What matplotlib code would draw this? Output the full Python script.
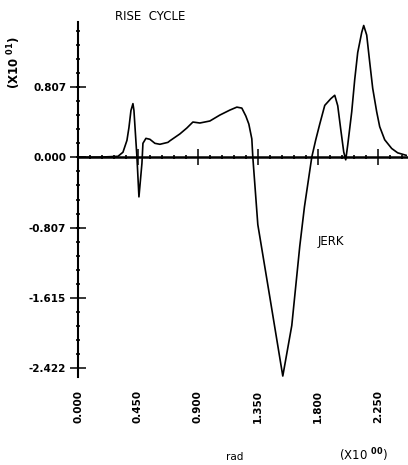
import matplotlib
matplotlib.use("Agg")
import matplotlib.pyplot as plt
import numpy as np

# ---- data (values in units of the axis labels) ----
x_vals = [0.000, 0.150, 0.300, 0.3375, 0.3675, 0.3825, 0.3975, 0.4125, 0.420,
          0.4425, 0.4575, 0.480, 0.4875, 0.510, 0.540, 0.5775, 0.615, 0.675,
          0.690, 0.765, 0.8175, 0.8625, 0.915, 0.990, 1.065, 1.140, 1.1925,
          1.230, 1.260, 1.2825, 1.305, 1.3125, 1.350, 1.440, 1.5375, 1.605,
          1.665, 1.700, 1.755, 1.785, 1.815, 1.8525, 1.8975, 1.9275, 1.950,
          1.9725, 1.995, 2.010, 2.025, 2.055, 2.0775, 2.100, 2.130, 2.145,
          2.1675, 2.190, 2.2125, 2.2425, 2.265, 2.3025, 2.355, 2.400, 2.4675]
jerk_vals = [0.000, 0.000, 0.010, 0.057, 0.193, 0.340, 0.535, 0.614, 0.535,
             0.000, -0.455, -0.070, 0.159, 0.216, 0.205, 0.159, 0.148, 0.170,
             0.188, 0.267, 0.335, 0.403, 0.392, 0.415, 0.483, 0.540, 0.574,
             0.563, 0.472, 0.380, 0.210, 0.000, -0.773, -1.603, -2.509, -1.930,
             -1.020, -0.570, 0.000, 0.200, 0.380, 0.594, 0.670, 0.710, 0.590,
             0.320, 0.060, -0.030, 0.140, 0.520, 0.890, 1.200, 1.430, 1.510,
             1.400, 1.090, 0.790, 0.520, 0.350, 0.200, 0.100, 0.050, 0.020]

y_ticks = [-2.422, -1.615, -0.807, 0.000, 0.807]
y_ticklabels = ["-2.422", "-1.615", "-0.807", "0.000", "0.807"]
x_ticks = [0.000, 0.450, 0.900, 1.350, 1.800, 2.250]
x_ticklabels = ["0.000", "0.450", "0.900", "1.350", "1.800", "2.250"]

W, H = 408, 465
fig = plt.figure(figsize=(W / 100, H / 100), dpi=100)
ax = fig.add_axes([78 / W, 88 / H, 329 / W, 355 / H])

ax.plot(x_vals, jerk_vals, color="black", lw=1.2, solid_joinstyle="round")

ax.set_xlim(0, 2.47)
ax.set_ylim(-2.52, 1.55)

for s in ["top", "right"]:
    ax.spines[s].set_visible(False)
ax.spines["left"].set_position(("data", 0))
ax.spines["bottom"].set_position(("data", 0))
ax.spines["left"].set_linewidth(1.5)
ax.spines["bottom"].set_linewidth(1.8)

ax.set_yticks(y_ticks)
ax.set_yticklabels(y_ticklabels, fontsize=7.5, fontweight="bold")
ax.set_xticks(x_ticks)
ax.tick_params(axis="x", labelbottom=False)
ax.set_yticks(np.arange(-2.422, 1.5, 0.807 / 5), minor=True)
ax.set_xticks(np.arange(0, 2.47, 0.09), minor=True)
ax.tick_params(which="major", direction="inout", length=11, width=1.1, pad=3)
ax.tick_params(which="minor", direction="inout", length=3, width=1.2)

for xt, lab in zip(x_ticks, x_ticklabels):
    ax.text(xt, -0.037, lab, transform=ax.get_xaxis_transform(), rotation=90,
            ha="center", va="top", fontsize=7.5, fontweight="bold")

ax.text(1.90, -0.966, "JERK", fontsize=8.5, ha="center", va="center")
fig.text(150 / W, 1 - 16 / H, "RISE  CYCLE", fontsize=8.5, ha="center", va="center")
fig.text(14 / W, 1 - 62 / H, r"(X10 $^{\mathbf{01}}$)", fontsize=8.5, fontweight="bold",
         rotation=90, ha="center", va="center")
fig.text(235 / W, 1 - 457 / H, "rad", fontsize=7.5, ha="center", va="center")
fig.text(363 / W, 1 - 455 / H, r"(X10 $^{\mathbf{00}}$)", fontsize=8.5,
         ha="center", va="center")

fig.savefig("out.png", dpi=100, facecolor="white")
